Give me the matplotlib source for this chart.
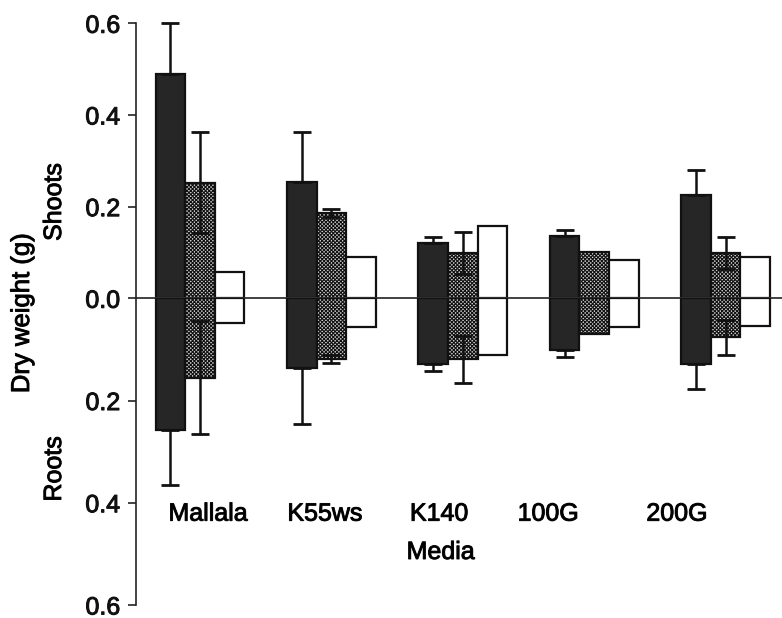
import numpy as np
import matplotlib
matplotlib.use('Agg')
import matplotlib.pyplot as plt
import matplotlib.patheffects as pe

plt.rcParams['font.family'] = ['Liberation Sans', 'DejaVu Sans']
plt.rcParams['hatch.linewidth'] = 0.8
plt.rcParams['hatch.color'] = '#3a3a3a'

# media (x categories)
media = ['Mallala', 'K55ws', 'K140', '100G', '200G']

# shoot dry weight (g): black, checkered and open bars, with SE
shoot_black = [0.490, 0.254, 0.121, 0.137, 0.226]
shoot_black_se = [0.110, 0.109, 0.013, 0.013, 0.053]
shoot_grey = [0.252, 0.186, 0.099, 0.102, 0.099]
shoot_grey_se = [0.110, 0.009, 0.045, 0.0, 0.035]
shoot_white = [0.057, 0.090, 0.158, 0.083, 0.090]

# root dry weight (g), drawn downwards
root_black = [0.257, 0.137, 0.129, 0.102, 0.129]
root_black_se = [0.109, 0.108, 0.014, 0.012, 0.048]
root_grey = [0.155, 0.119, 0.119, 0.070, 0.076]
root_grey_se = [0.110, 0.008, 0.046, 0.0, 0.034]
root_white = [0.049, 0.057, 0.111, 0.056, 0.055]

# where the media names sit (they are not centred under the groups)
label_x = [0.06, 0.95, 1.82, 2.65, 3.63]

W, H = 782, 618
fig = plt.figure(figsize=(W / 100, H / 100), dpi=100)

# scanned look: slightly heavier text
bold = [pe.withStroke(linewidth=0.7, foreground='#111111')]

left = 135.5 / W
ax_s = fig.add_axes([left, (H - 298.3) / H, 1 - left, 275.0 / H])
ax_r = fig.add_axes([left, (H - 605.0) / H, 1 - left, 306.7 / H], sharex=ax_s)

x = np.arange(len(media))
bw = 0.225
styles = [
    dict(color='#262626', edgecolor='#111111'),
    dict(color='#d4d4d4', edgecolor='#111111', hatch='xxxxxxxxx'),
    dict(color='white', edgecolor='#111111'),
]
ebar = dict(fmt='none', ecolor='#111111', elinewidth=1.8, capsize=6.5,
            capthick=2.0, clip_on=False, zorder=4)


def draw(ax, values, errors, outward_only):
    for k, (vals, st) in enumerate(zip(values, styles)):
        xs = x + (k - 1) * bw
        ax.bar(xs, vals, width=bw, linewidth=1.6, zorder=2, **st)
        if errors[k] is None:
            continue
        err = np.array(errors[k])
        m = err > 0
        if outward_only[k]:
            # the inner half is hidden by the solid bar
            yerr = [np.zeros(m.sum()), err[m]]
        else:
            yerr = err[m]
        ax.errorbar(xs[m], np.array(vals)[m], yerr=yerr, **ebar)


draw(ax_s, [shoot_black, shoot_grey, shoot_white],
     [shoot_black_se, shoot_grey_se, None], [True, False, False])
draw(ax_r, [root_black, root_grey, root_white],
     [root_black_se, root_grey_se, None], [True, False, False])

ax_s.set_ylim(0, 0.6)
ax_r.set_ylim(0.6, 0)
ax_s.set_xlim((135.5 - 200) / 131.4, (782 - 200) / 131.4)

ax_s.set_yticks([0.0, 0.2, 0.4, 0.6])
ax_r.set_yticks([0.2, 0.4, 0.6])
for ax in (ax_s, ax_r):
    for sp in ('top', 'right', 'bottom'):
        ax.spines[sp].set_visible(False)
    ax.spines['left'].set_linewidth(1.2)
    ax.spines['left'].set_color('#222222')
    ax.yaxis.set_major_formatter(matplotlib.ticker.FormatStrFormatter('%.1f'))
    ax.tick_params(axis='y', direction='out', length=6, width=1.1,
                   labelsize=18, pad=5, colors='#111111')
    ax.tick_params(axis='x', bottom=False, labelbottom=False)
    ax.patch.set_alpha(0)
    for t in ax.get_yticklabels():
        t.set_path_effects(bold)

# zero line across the plot
ax_s.axhline(0, color='#333333', lw=1.3, zorder=5, clip_on=False)

for lx, name in zip(label_x, media):
    ax_r.text(lx, 0.435, name, ha='center', va='baseline', fontsize=18,
              path_effects=bold)
ax_r.text(1.83, 0.510, 'Media', ha='center', va='baseline', fontsize=18,
          path_effects=bold)

fig.text(22 / W, 1 - 313 / H, 'Dry weight (g)', rotation=90,
         ha='center', va='center', fontsize=18.5, path_effects=bold)
fig.text(54 / W, 1 - 202 / H, 'Shoots', rotation=90,
         ha='center', va='center', fontsize=18, path_effects=bold)
fig.text(54 / W, 1 - 469 / H, 'Roots', rotation=90,
         ha='center', va='center', fontsize=18, path_effects=bold)

fig.savefig('out.png', dpi=100)
